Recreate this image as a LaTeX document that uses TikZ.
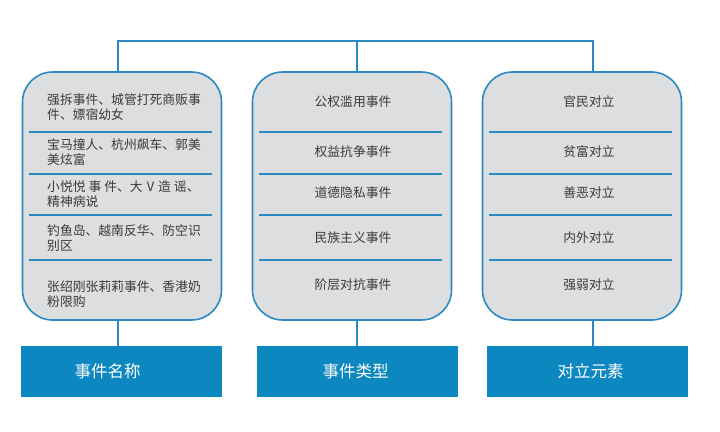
\documentclass[tikz,border=0pt]{standalone}
\usepackage{fontspec}
\setmainfont{Noto Sans CJK SC}
\usetikzlibrary{calc,positioning}
\definecolor{lineblue}{HTML}{2B8BC0}
\definecolor{boxgray}{HTML}{DCDEE0}
\definecolor{headblue}{HTML}{0C87BF}
\definecolor{textgray}{HTML}{3A3A3A}
\tikzset{
  groupbox/.style={draw=lineblue, line width=1.6pt, fill=boxgray, rounded corners=30pt, minimum width=199pt, minimum height=248pt},
  headbox/.style={fill=headblue, minimum width=201pt, minimum height=51pt},
  headtext/.style={text=white, font=\fontsize{16.5}{18}\selectfont},
  item/.style={text=textgray, font=\fontsize{12.8}{15}\selectfont, inner sep=0pt, align=left},
  sep/.style={draw=lineblue, line width=1.2pt},
  link/.style={draw=lineblue, line width=1.5pt}
}
\begin{document}
\begin{tikzpicture}[x=1pt,y=-1pt]
  \useasboundingbox (0,0) rectangle (720,431);

  % Three grouping boxes
  \node[groupbox] (b1) at (122,196) {};
  \node[groupbox] (b2) at (352,196) {};
  \node[groupbox] (b3) at (582,196) {};

  % Header boxes at the bottom
  \node[headbox, label={[headtext, xshift=-14pt]center:事件名称}] (t1) at (121.5,371.5) {};
  \node[headbox, label={[headtext, xshift=-2pt]center:事件类型}] (t2) at (357.5,371.5) {};
  \node[headbox, label={[headtext, xshift=3pt]center:对立元素}] (t3) at (587.5,371.5) {};

  % Separators inside each box
  \foreach \bx in {b1,b2,b3} {
    \foreach \y in {132,174,215,260} {
      \draw[sep] ([xshift=7pt]\bx.west |- 0,\y) -- ([xshift=-10pt]\bx.east |- 0,\y);
    }
  }

  % Event names (left aligned, two lines each)
  \foreach \t/\y [count=\i] in {{强拆事件、城管打死商贩事\\件、嫖宿幼女}/107.5,
                               {宝马撞人、杭州飙车、郭美\\美炫富}/152.5,
                               {小悦悦\hspace{3pt}事\hspace{3pt}件、大\hspace{4pt}V\hspace{4pt}造\hspace{3pt}谣、\\精神病说}/194.5,
                               {钓鱼岛、越南反华、防空识\\别区}/238.5,
                               {张绍刚张莉莉事件、香港奶\\粉限购}/294.5} {
    \node[item, anchor=west] (e\i) at (47,\y) {\t};
  }

  % Event types
  \foreach \t/\y [count=\i] in {公权滥用事件/102, 权益抗争事件/152, 道德隐私事件/193, 民族主义事件/238, 阶层对抗事件/285} {
    \node[item] (k\i) at (353,\y) {\t};
  }

  % Opposing elements
  \foreach \t/\y [count=\i] in {官民对立/102, 贫富对立/152, 善恶对立/193, 内外对立/238, 强弱对立/285} {
    \node[item] (d\i) at (589,\y) {\t};
  }

  % Connectors
  \coordinate (j1) at (118,41);
  \coordinate (j2) at (357,41);
  \coordinate (j3) at (593,41);
  \draw[link] (b1.north -| j1) -- (j1) -- (j3) -- (b3.north -| j3);
  \draw[link] (j2) -- (b2.north -| j2);
  \draw[link] (b1.south -| j1) -- (t1.north -| j1);
  \draw[link] (b2.south -| j2) -- (t2.north -| j2);
  \draw[link] (b3.south -| j3) -- (t3.north -| j3);
\end{tikzpicture}
\end{document}
